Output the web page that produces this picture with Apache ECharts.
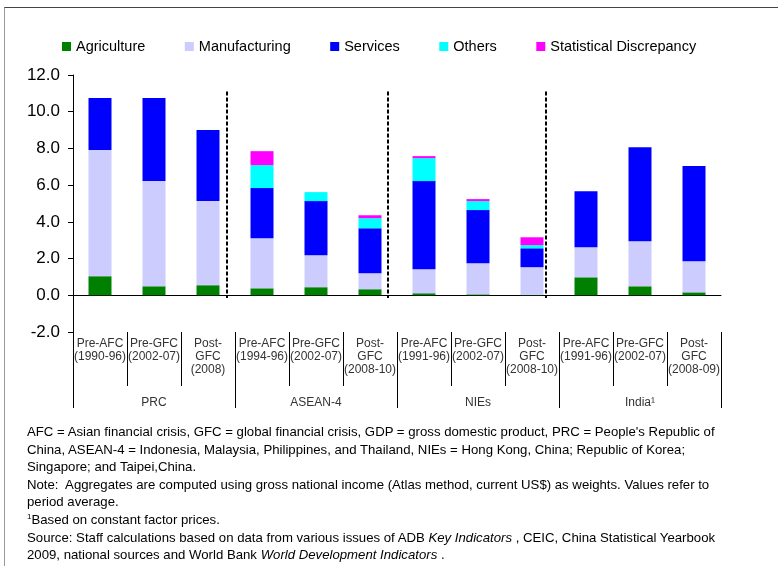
<!DOCTYPE html>
<html>
<head>
<meta charset="utf-8">
<script src="https://cdn.jsdelivr.net/npm/echarts@6/dist/echarts.min.js"></script>
<style>
  html, body { margin: 0; padding: 0; background: #fff; }
  #wrap { position: relative; width: 778px; height: 566px; overflow: hidden; }
  #frame { position: absolute; left: 4px; top: 7px; width: 800px; height: 600px;
           border-top: 1px solid #444; border-left: 1px solid #999; }
  #chart { position: absolute; left: 0; top: 0; width: 778px; height: 566px; }
  #notes { position: absolute; left: 27px; top: 423px; font-family: "Liberation Sans", Arial, sans-serif;
           font-size: 13.2px; line-height: 17.6px; color: #000; white-space: nowrap; }
  #notes sup { font-size: 8px; vertical-align: 5px; line-height: 0; }
</style>
</head>
<body>
<div id="wrap">
  <div id="frame"></div>
  <div id="chart"></div>
  <div id="notes">
    AFC = Asian financial crisis, GFC = global financial crisis, GDP = gross domestic product, PRC = People's Republic of<br>
    China, ASEAN-4 = Indonesia, Malaysia, Philippines, and Thailand, NIEs = Hong Kong, China; Republic of Korea;<br>
    Singapore; and Taipei,China.<br>
    Note:&nbsp; Aggregates are computed using gross national income (Atlas method, current US$) as weights. Values refer to<br>
    period average.<br>
    <sup>1</sup>Based on constant factor prices.<br>
    Source: Staff calculations based on data from various issues of ADB <i>Key Indicators</i> , CEIC, China Statistical Yearbook<br>
    2009, national sources and World Bank <i>World Development Indicators</i> .
  </div>
</div>
<script>
// 期间 / 分组
var periods = ['Pre-AFC\n(1990-96)', 'Pre-GFC\n(2002-07)', 'Post-\nGFC\n(2008)',
               'Pre-AFC\n(1994-96)', 'Pre-GFC\n(2002-07)', 'Post-\nGFC\n(2008-10)',
               'Pre-AFC\n(1991-96)', 'Pre-GFC\n(2002-07)', 'Post-\nGFC\n(2008-10)',
               'Pre-AFC\n(1991-96)', 'Pre-GFC\n(2002-07)', 'Post-\nGFC\n(2008-09)'];
var groups = ['PRC', 'ASEAN-4', 'NIEs', 'India\u00b9'];

var agriculture   = [1.04, 0.49, 0.55, 0.38, 0.44, 0.33, 0.11, 0.05, 0.02, 0.98, 0.49, 0.16];
var manufacturing = [6.87, 5.73, 4.58, 2.73, 1.74, 0.87, 1.31, 1.70, 1.51, 1.64, 2.46, 1.69];
var services      = [2.84, 4.53, 3.87, 2.73, 2.95, 2.45, 4.80, 2.89, 1.03, 3.05, 5.12, 5.19];
var others        = [0, 0, 0, 1.25, 0.49, 0.55, 1.25, 0.49, 0.17, 0, 0, 0];
var discrepancy   = [0, 0, 0, 0.76, 0, 0.16, 0.11, 0.11, 0.43, 0, 0, 0];

var yTicks = { min: -2, max: 12, step: 2 };
// 虚线分隔位置 (类目单位)
var dividers = [2.85, 5.83, 8.76];
var dividerSpan = [-0.15, 11.1];

var myChart = echarts.init(document.getElementById('chart'));
var font = '"Liberation Sans", Arial, sans-serif';

function bar(name, data, color) {
  return {
    name: name, type: 'bar', stack: 'total', data: data,
    xAxisIndex: 0, barWidth: 23,
    itemStyle: { color: color },
    emphasis: { disabled: true }
  };
}

var lines = dividers.map(function (x) {
  return [{ coord: [x, dividerSpan[1]] }, { coord: [x, dividerSpan[0]] }];
});

option = {
  animation: false,
  textStyle: { fontFamily: font },
  legend: {
    left: 62, top: 39, padding: 0,
    itemWidth: 9, itemHeight: 9, itemGap: 39.5,
    icon: 'rect',
    textStyle: { fontSize: 14.5, color: '#000', fontFamily: font },
    data: ['Agriculture', 'Manufacturing', 'Services', 'Others', 'Statistical Discrepancy']
  },
  grid: { left: 73, right: 57, top: 75, bottom: 234 },
  xAxis: [
    {
      type: 'category', data: periods,
      axisLine: { onZero: true, lineStyle: { color: '#000', width: 1 } },
      axisTick: { length: 4, interval: 0, lineStyle: { color: '#000' } },
      axisLabel: { show: false }
    },
    {
      type: 'category', data: periods, position: 'bottom',
      axisLine: { show: false, onZero: false },
      axisTick: { show: true, length: 54, interval: 0, lineStyle: { color: '#000' } },
      axisLabel: { interval: 0, margin: 5, fontSize: 12, color: '#333', lineHeight: 13, fontFamily: font }
    },
    {
      type: 'category', data: groups, position: 'bottom',
      axisLine: { show: false, onZero: false },
      axisTick: { show: true, length: 76, interval: 0, lineStyle: { color: '#000' } },
      axisLabel: { interval: 0, margin: 65, fontSize: 12, color: '#333', fontFamily: font }
    },
    { type: 'value', min: 0, max: 12, show: false }
  ],
  yAxis: {
    type: 'value', min: yTicks.min, max: yTicks.max, interval: yTicks.step,
    axisLine: { show: true, lineStyle: { color: '#000' } },
    axisTick: { show: true, length: 5, lineStyle: { color: '#000' } },
    splitLine: { show: false },
    axisLabel: {
      fontSize: 17, color: '#000', margin: 13, fontFamily: font,
      formatter: function (v) { return v.toFixed(1); }
    }
  },
  series: [
    bar('Agriculture', agriculture, '#008000'),
    bar('Manufacturing', manufacturing, '#ccccff'),
    bar('Services', services, '#0000ff'),
    bar('Others', others, '#00ffff'),
    bar('Statistical Discrepancy', discrepancy, '#ff00ff'),
    {
      type: 'line', xAxisIndex: 3, data: [], silent: true,
      markLine: {
        silent: true, symbol: ['none', 'none'], label: { show: false },
        lineStyle: { color: '#000', width: 2, type: [4, 2] },
        emphasis: { disabled: true },
        data: lines
      }
    }
  ]
};

myChart.setOption(option);
</script>
</body>
</html>
